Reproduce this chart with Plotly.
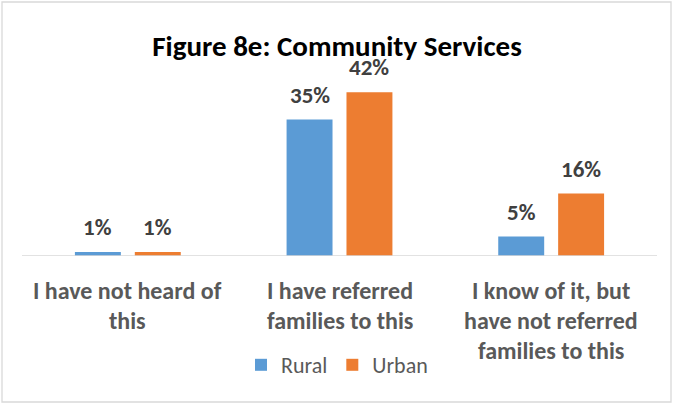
import plotly.graph_objects as go

# Survey responses by setting
categories = ["I have not heard of\nthis",
              "I have referred\nfamilies to this",
              "I know of it, but\nhave not referred\nfamilies to this"]
rural = [1, 35, 5]
urban = [1, 42, 16]
series_names = ["Rural", "Urban"]

W, H = 674, 405
ML, MR, MT, MB = 22, 17, 61, 149
Y_MAX = 50
BARGAP = 0.434

FONT = "Carlito, Calibri, Lato, sans-serif"
BLUE = "#5B9BD5"
ORANGE = "#ED7D31"

keys = [c.replace("\n", " ") for c in categories]
plot_w = W - ML - MR
plot_h = H - MT - MB
slot_px = plot_w / len(categories) * (1 - BARGAP) / 2

fig = go.Figure()
annotations = []
for j, (name, vals, color) in enumerate([(series_names[0], rural, BLUE),
                                         (series_names[1], urban, ORANGE)]):
    fig.add_trace(go.Bar(
        x=keys, y=vals, name=name,
        marker=dict(color=color, line=dict(width=0)),
    ))
    # value labels above each bar
    offset = (j - 0.5) * slot_px
    for key, v in zip(keys, vals):
        annotations.append(dict(
            x=key, xref="x", y=v, yref="y", xshift=offset, yshift=25,
            text=f"<b>{v}%</b>", showarrow=False, yanchor="middle",
            font=dict(family=FONT, size=23, color="#404040"),
        ))

# Category labels, one annotation per line for wider line spacing
for key, label in zip(keys, categories):
    for i, line in enumerate(label.split("\n")):
        annotations.append(dict(
            x=key, xref="x", y=0, yref="paper",
            text=f"<b>{line}</b>", showarrow=False,
            yanchor="middle", yshift=-34 - 30 * i,
            font=dict(family=FONT, size=24, color="#595959"),
        ))

fig.add_shape(
    type="rect", xref="paper", yref="paper",
    x0=(2 - ML) / plot_w, x1=(W - 3 - ML) / plot_w,
    y0=-(H - 3 - (H - MB)) / plot_h, y1=(H - MB - 2) / plot_h,
    line=dict(color="#D9D9D9", width=1.3), layer="below",
)

fig.update_layout(
    width=W, height=H,
    margin=dict(l=ML, r=MR, t=MT, b=MB),
    paper_bgcolor="white", plot_bgcolor="white",
    barmode="group", bargap=BARGAP, bargroupgap=0.233,
    title=dict(text="<b>Figure 8e: Community Services</b>",
               x=0.5, xanchor="center", xref="container",
               y=1 - 46 / H, yanchor="middle", yref="container",
               font=dict(family=FONT, size=29, color="black")),
    xaxis=dict(showticklabels=False, showgrid=False, zeroline=False,
               showline=False, ticks=""),
    yaxis=dict(range=[0, Y_MAX], visible=False, showgrid=False, zeroline=False),
    legend=dict(orientation="h", x=0.5, xanchor="center", xref="container",
                y=1 - 365 / H, yanchor="middle", yref="container",
                font=dict(family=FONT, size=22, color="#595959"),
                itemwidth=30, tracegroupgap=0),
    annotations=annotations,
    showlegend=True,
)

# Baseline
fig.add_shape(type="line", xref="paper", yref="y", x0=0, x1=1, y0=0, y1=0,
              line=dict(color="#D9D9D9", width=1.3))

fig.write_html("out.html")
